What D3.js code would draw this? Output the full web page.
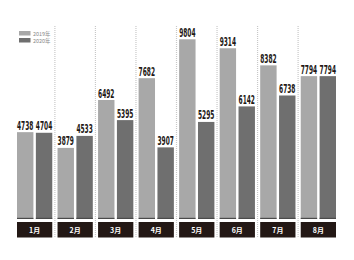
<!DOCTYPE html>
<html><head><meta charset="utf-8">
<script src="https://cdn.jsdelivr.net/npm/d3@7"></script>
<style>html,body{margin:0;padding:0;background:#fff;}svg{display:block;}</style>
</head><body>
<svg id="c" width="354" height="260"></svg>
<script>
const months = ["1月","2月","3月","4月","5月","6月","7月","8月"];
const series = ["2019年","2020年"];
const v2019 = [4738,3879,6492,7682,9804,9314,8382,7794];
const v2020 = [4704,4533,5395,3907,5295,6142,6738,7794];
const colors = ["#a8a8a8","#6f6f6f"];

const svg = d3.select("#c");
const baseY = 219;
const x = d3.scaleBand().domain(months).range([17, 336]).paddingInner(0.13).paddingOuter(0);
const xs = d3.scaleBand().domain(series).range([0, x.bandwidth()]).paddingInner(0.13);
const y = d3.scaleLinear().domain([0, 10000]).range([baseY, baseY - 183.3]);

const step = x.step();
// dashed separators
svg.append("g").selectAll("line").data(months.slice(1)).join("line")
  .attr("x1", d => x(d) - (step - x.bandwidth())/2)
  .attr("x2", d => x(d) - (step - x.bandwidth())/2)
  .attr("y1", 26).attr("y2", 238)
  .attr("stroke", "#c8c8c8").attr("stroke-width", 1.2).attr("stroke-dasharray", "1,1");

const data = months.map((m,i) => ({m, vals:[v2019[i], v2020[i]]}));
const g = svg.append("g").selectAll("g").data(data).join("g").attr("transform", d => `translate(${x(d.m)},0)`);
g.selectAll("rect.bar").data(d => d.vals.map((v,j)=>({v, s:series[j], j}))).join("rect")
  .attr("class","bar")
  .attr("x", d => xs(d.s)).attr("width", xs.bandwidth())
  .attr("y", d => y(d.v)).attr("height", d => baseY - y(d.v))
  .attr("fill", d => colors[d.j]);
g.selectAll("rect.base").data(d => d.vals.map((v,j)=>({v, s:series[j], j}))).join("rect")
  .attr("class","base")
  .attr("x", d => xs(d.s)).attr("width", xs.bandwidth())
  .attr("y", baseY - 1.2).attr("height", 1.2)
  .attr("fill", "#4a4a4a");
g.selectAll("text.val").data(d => d.vals.map((v,j)=>({v, s:series[j], j}))).join("text")
  .attr("class","val")
  .attr("x", d => xs(d.s) + xs.bandwidth()/2)
  .attr("y", d => y(d.v) - 2.5)
  .attr("text-anchor","middle")
  .attr("font-family","'Liberation Sans Narrow','DejaVu Sans Condensed',sans-serif")
  .attr("font-weight","bold").attr("font-size", 12)
  .attr("fill","#231815")
  .attr("textLength", 16.4).attr("lengthAdjust","spacingAndGlyphs")
  .text(d => d.v);
// month label boxes
g.append("rect").attr("x",0).attr("width", x.bandwidth()).attr("y",222).attr("height",15.5).attr("fill","#231815");
g.append("text").attr("x", x.bandwidth()/2).attr("y", 232.5).attr("text-anchor","middle")
  .attr("font-family","'Noto Sans CJK JP',sans-serif").attr("font-weight","bold").attr("font-size",7)
  .attr("fill","#fff").text(d => d.m);

// legend
const lg = svg.append("g").selectAll("g").data(series).join("g").attr("transform",(d,i)=>`translate(19,${31 + i*7})`);
lg.append("rect").attr("width",11.5).attr("height",4.5).attr("fill",(d,i)=>colors[i]);
lg.append("text").attr("x",14).attr("y",4.5).attr("font-family","'Noto Sans CJK JP',sans-serif")
  .attr("font-size",5.4).attr("fill","#8a8a8a").text(d=>d);
</script>
</body></html>
